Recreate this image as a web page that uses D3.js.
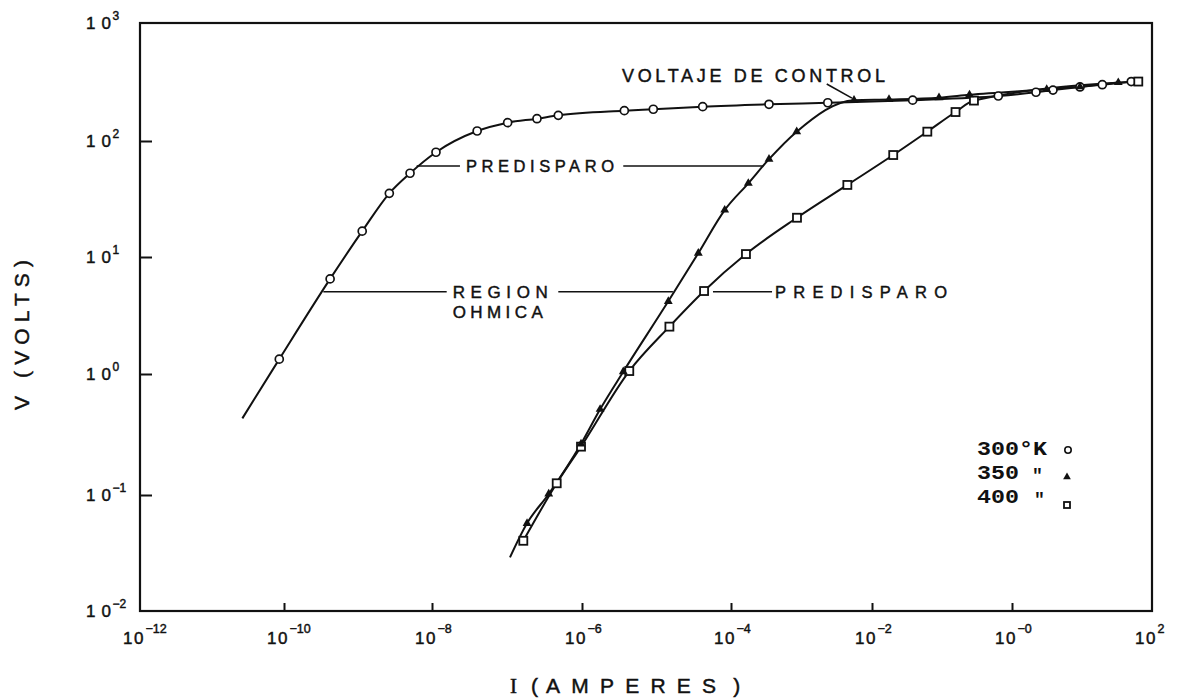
<!DOCTYPE html>
<html>
<head>
<meta charset="utf-8">
<script src="https://cdn.jsdelivr.net/npm/d3@7"></script>
<style>
  html, body { margin: 0; padding: 0; background: #fff; }
  svg { display: block; }
  text { fill: #111; }
  text.lettered { stroke: #111; stroke-width: 0.45px; }
</style>
</head>
<body>
<svg id="chart" width="1179" height="700"></svg>
<script>
// ---- Axis decades (powers of ten) and their printed exponents ----
const xDecades = [-12, -10, -8, -6, -4, -2, 0, 2];
const xExponents = ["\u221212", "\u221210", "\u22128", "\u22126", "\u22124", "\u22122", "\u22120", "2"];
const yDecades = [3, 2, 1, 0, -1, -2];
const yExponents = ["3", "2", "1", "0", "\u22121", "\u22122"];

// ---- Measured points: current I (A) and voltage V (V) ----
// 300 K (open circles); the curve starts below the first point
const tail300 = [2.64e-11, 0.43];
const i300 = [8.6e-11, 4.2e-10, 1.14e-9, 2.65e-9, 5.05e-9, 1.13e-8, 4.0e-8, 1.02e-7, 2.51e-7, 4.83e-7,
              3.7e-6, 9.06e-6, 4.17e-5, 3.46e-4, 2.36e-3, 0.0381, 0.637, 2.2, 3.85, 9.36, 19.5, 50.6];
const v300 = [1.34, 6.5, 16.7, 35.4, 52.7, 80, 121.5, 143, 154.5, 165,
              180.7, 185.8, 195.5, 204.7, 211, 222, 240.6, 258.8, 270, 287, 300, 319];

// 350 K (filled triangles)
const tail350 = [1.096e-7, 0.029];
const i350 = [1.85e-7, 3.6e-7, 9.7e-7, 1.75e-6, 3.58e-6, 1.44e-5, 3.64e-5, 8.23e-5, 1.76e-4, 3.46e-4,
              8.55e-4, 5.56e-3, 0.0175, 0.0906, 0.247, 3.13, 9.36, 33];
const v350 = [0.057, 0.102, 0.264, 0.511, 1.046, 4.18, 10.8, 25.4, 43.2, 69.7,
              120, 222, 225, 232.8, 246.6, 274, 288, 313];

// 400 K (open squares)
const i400 = [1.65e-7, 4.6e-7, 9.7e-7, 4.31e-6, 1.49e-5, 4.35e-5, 1.63e-4, 8.63e-4, 4.47e-3, 0.0201,
              0.0617, 0.156, 0.286, 63.7];
const v400 = [0.0403, 0.125, 0.251, 1.06, 2.54, 5.12, 10.6, 21.8, 41.8, 75.7,
              120, 176, 220, 319];

// ---- Scales: the printed axes are hand-ruled, so each decade pair keeps its own span ----
const xStops = [140, 284, 432, 582, 731, 872, 1012, 1152];
const yStops = [23, 141, 257, 374, 495, 611];
const x = d3.scaleLog().domain(xDecades.map(e => Math.pow(10, e))).range(xStops);
const y = d3.scaleLog().domain(yDecades.map(e => Math.pow(10, e))).range(yStops);

const [x0, x1] = [x(1e-12), x(1e2)];
const [y0, y1] = [y(1e3), y(1e-2)];

const svg = d3.select("#chart");
const SANS = "'Liberation Sans', Arial, sans-serif";
const INK = "#111";

// ---- Frame and inward ticks ----
svg.append("rect")
  .attr("x", x0).attr("y", y0)
  .attr("width", x1 - x0).attr("height", y1 - y0)
  .attr("fill", "none").attr("stroke", INK).attr("stroke-width", 2.2);

const innerX = xDecades.slice(1, -1).map(e => Math.pow(10, e));
const innerY = yDecades.slice(1, -1).map(e => Math.pow(10, e));

const gx = svg.append("g").attr("transform", `translate(0,${y1})`)
  .call(d3.axisBottom(x).tickValues(innerX).tickSize(-8).tickFormat(""));
const gy = svg.append("g").attr("transform", `translate(${x0},0)`)
  .call(d3.axisLeft(y).tickValues(innerY).tickSize(-12).tickFormat(""));
[gx, gy].forEach(g => {
  g.select(".domain").remove();
  g.selectAll(".tick line").attr("stroke", INK).attr("stroke-width", 2);
});

// "10" with a raised exponent
function powerLabel(px, py, exp, o) {
  const t = svg.append("text").attr("class", "lettered")
    .attr("x", px).attr("y", py)
    .attr("font-family", SANS).attr("font-size", o.size);
  t.append("tspan").text("1");
  t.append("tspan").attr("dx", o.gap).text("0");
  t.append("tspan").attr("dx", o.supGap).attr("dy", -o.rise)
    .attr("font-size", o.supSize).text(exp);
}

xDecades.forEach((e, k) => {
  powerLabel(x(Math.pow(10, e)) - 17, 644, xExponents[k],
    { size: 17, gap: 1.5, supGap: 2, rise: 11, supSize: 12.5 });
});
yDecades.forEach((e, k) => {
  powerLabel(86, y(Math.pow(10, e)) + 6, yExponents[k],
    { size: 17, gap: 6, supGap: 1.5, rise: 9, supSize: 12 });
});

// ---- Axis titles ----
svg.append("text").attr("class", "lettered")
  .attr("transform", `translate(29,${(y0 + y1) / 2 + 18}) rotate(-90)`)
  .attr("text-anchor", "middle")
  .attr("font-family", SANS).attr("font-size", 21)
  .attr("textLength", 150).attr("lengthAdjust", "spacing")
  .text("V (VOLTS)");

const xt = svg.append("text").attr("class", "lettered")
  .attr("x", 510).attr("y", 693)
  .attr("font-family", SANS).attr("font-size", 21);
xt.append("tspan").attr("font-family", "'Liberation Serif', serif").text("I");
xt.append("tspan").attr("dx", 14).text("(");
xt.append("tspan").attr("dx", 8).attr("textLength", 170).attr("lengthAdjust", "spacing").text("AMPERES");
xt.append("tspan").attr("dx", 6).text(")");

// ---- Curves ----
const line = d3.line()
  .x(d => x(d[0]))
  .y(d => y(d[1]))
  .curve(d3.curveMonotoneX);

const pts300 = d3.zip(i300, v300);
const pts350 = d3.zip(i350, v350);
const pts400 = d3.zip(i400, v400);

[[tail300, ...pts300], [tail350, ...pts350], pts400].forEach(pts => {
  svg.append("path")
    .attr("d", line(pts))
    .attr("fill", "none").attr("stroke", INK)
    .attr("stroke-width", 2).attr("stroke-linejoin", "round");
});

// ---- Leader lines and captions (placed in data units) ----
const vUpper = 60.9;   // upper "PREDISPARO" level
const vOhm = 5.05;     // "REGION OHMICA" level

const leaders = [
  [[6.2e-9, vUpper], [2.36e-8, vUpper]],
  [[3.58e-6, vUpper], [2.85e-4, vUpper]],
  [[3.4e-10, vOhm], [1.57e-8, vOhm]],
  [[4.83e-7, vOhm], [1.66e-5, vOhm]],
  [[5.73e-5, vOhm], [3.82e-4, vOhm]],
  [[2.28e-3, 304], [5.2e-3, 231]]
];
leaders.forEach(([a, b]) => {
  svg.append("line")
    .attr("x1", x(a[0])).attr("y1", y(a[1]))
    .attr("x2", x(b[0])).attr("y2", y(b[1]))
    .attr("stroke", INK).attr("stroke-width", 1.6);
});

function caption(I, V, dy, str, size, len) {
  svg.append("text").attr("class", "lettered")
    .attr("x", x(I)).attr("y", y(V) + dy)
    .attr("font-family", SANS).attr("font-size", size)
    .attr("textLength", len).attr("lengthAdjust", "spacing")
    .text(str);
}
caption(2.84e-8, vUpper, 6, "PREDISPARO", 16.5, 148);
caption(1.89e-8, vOhm, 6, "REGION", 17, 95);
caption(1.89e-8, vOhm, 26, "OHMICA", 17, 90);
caption(4.21e-4, vOhm, 6, "PREDISPARO", 16.5, 172);
caption(3.44e-6, 318, 0, "VOLTAJE DE CONTROL", 18, 263);

// ---- Markers ----
const tri = d3.symbol().type(d3.symbolTriangle).size(34);

svg.append("g").selectAll("circle").data(pts300).join("circle")
  .attr("cx", d => x(d[0])).attr("cy", d => y(d[1])).attr("r", 4)
  .attr("fill", "#fff").attr("stroke", INK).attr("stroke-width", 1.7);

svg.append("g").selectAll("rect").data(pts400).join("rect")
  .attr("x", d => x(d[0]) - 4).attr("y", d => y(d[1]) - 4)
  .attr("width", 8).attr("height", 8)
  .attr("fill", "#fff").attr("stroke", INK).attr("stroke-width", 1.8);

svg.append("g").selectAll("path").data(pts350).join("path")
  .attr("transform", d => `translate(${x(d[0])},${y(d[1])})`)
  .attr("d", tri).attr("fill", INK);

// ---- Legend ----
const MONO = "'Liberation Mono', 'DejaVu Sans Mono', monospace";
const legendRows = [
  { label: "300\u00B0K", ditto: false, len: 70 },
  { label: "350", ditto: true, len: 42 },
  { label: "400", ditto: true, len: 42 }
];
const legendBase = [455, 479, 503];
legendRows.forEach((r, k) => {
  svg.append("text")
    .attr("x", 977).attr("y", legendBase[k])
    .attr("font-family", MONO).attr("font-weight", "bold").attr("font-size", 21)
    .attr("textLength", r.len).attr("lengthAdjust", "spacingAndGlyphs")
    .text(r.label);
  if (r.ditto) {
    svg.append("text")
      .attr("x", 1030 + k * 2).attr("y", legendBase[k] + 2)
      .attr("font-family", MONO).attr("font-weight", "bold").attr("font-size", 18)
      .text("\"");
  }
});
svg.append("circle").attr("cx", 1068).attr("cy", 450).attr("r", 3.2)
  .attr("fill", "#fff").attr("stroke", INK).attr("stroke-width", 1.6);
svg.append("path").attr("transform", "translate(1067,477)")
  .attr("d", d3.symbol().type(d3.symbolTriangle).size(26)).attr("fill", INK);
svg.append("rect").attr("x", 1064).attr("y", 502).attr("width", 6).attr("height", 6)
  .attr("fill", "#fff").attr("stroke", INK).attr("stroke-width", 1.8);
</script>
</body>
</html>
